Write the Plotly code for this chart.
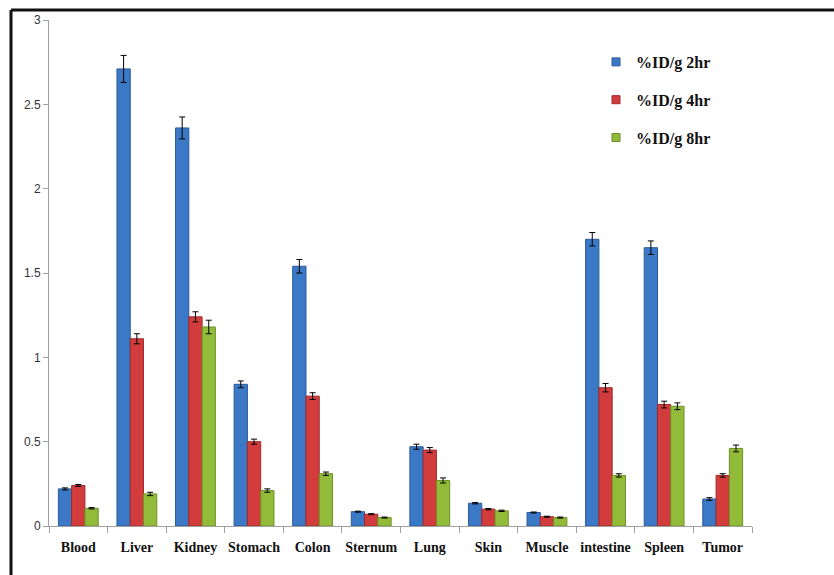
import plotly.graph_objects as go

categories = ["Blood", "Liver", "Kidney", "Stomach", "Colon", "Sternum", "Lung",
              "Skin", "Muscle", "intestine", "Spleen", "Tumor"]
series_names = ["%ID/g 2hr", "%ID/g 4hr", "%ID/g 8hr"]
vals_2hr = [0.22, 2.71, 2.36, 0.84, 1.54, 0.085, 0.47, 0.135, 0.08, 1.70, 1.65, 0.16]
vals_4hr = [0.24, 1.11, 1.24, 0.50, 0.77, 0.07, 0.45, 0.10, 0.055, 0.82, 0.72, 0.30]
vals_8hr = [0.105, 0.19, 1.18, 0.21, 0.31, 0.05, 0.27, 0.09, 0.05, 0.30, 0.71, 0.46]
err_2hr = [0.006, 0.08, 0.065, 0.02, 0.04, 0.003, 0.015, 0.004, 0.003, 0.04, 0.04, 0.008]
err_4hr = [0.006, 0.03, 0.03, 0.015, 0.02, 0.003, 0.015, 0.004, 0.003, 0.025, 0.02, 0.01]
err_8hr = [0.004, 0.01, 0.04, 0.01, 0.01, 0.003, 0.015, 0.004, 0.003, 0.01, 0.02, 0.02]
tick_vals = [0, 0.5, 1, 1.5, 2, 2.5, 3]
tick_text = ["0", "0.5", "1", "1.5", "2", "2.5", "3"]

colors = ["#3b78c6", "#d23c3c", "#93bb3a"]
edge_colors = ["#2a5a9a", "#a02a2a", "#6f9028"]

fig = go.Figure()
for i, (name, v, e) in enumerate(zip(series_names, [vals_2hr, vals_4hr, vals_8hr],
                                     [err_2hr, err_4hr, err_8hr])):
    fig.add_trace(go.Bar(
        x=categories, y=v, name=name, legendgroup=name, showlegend=False,
        marker=dict(color=colors[i], line=dict(color=edge_colors[i], width=1)),
        error_y=dict(type="data", array=e, visible=True, color="black",
                     thickness=1, width=3),
    ))
    # legend-only entry with a small square symbol
    fig.add_trace(go.Scatter(
        x=[None], y=[None], mode="markers", name=f"<b>{name}</b>", legendgroup=name,
        marker=dict(symbol="square", size=8, color=colors[i],
                    line=dict(color=edge_colors[i], width=1)),
    ))

W, H = 834, 575
ml, mr, mt, mb = 49, 82, 20, 49
pw, ph = W - ml - mr, H - mt - mb

def px_x(p):
    return (p - ml) / pw

def px_y(p):
    return (H - mb - p) / ph

border_x = px_x(11)
border_y = px_y(10)

fig.update_layout(
    width=W, height=H,
    margin=dict(l=ml, r=mr, t=mt, b=mb, pad=0),
    paper_bgcolor="white", plot_bgcolor="white",
    barmode="group", bargap=0.32, bargroupgap=0,
    showlegend=True,
    legend=dict(x=px_x(596), y=px_y(45), xanchor="left", yanchor="top",
                font=dict(family="Liberation Serif", size=16, color="#111"),
                tracegroupgap=14, bgcolor="rgba(0,0,0,0)", itemwidth=30),
    xaxis=dict(showline=True, linecolor="#a0a0a0", linewidth=1,
               ticks="outside", tickson="boundaries", ticklen=6, tickcolor="#a0a0a0",
               tickangle=0, automargin=False, ticklabelstandoff=8,
               tickvals=categories, ticktext=[f"<b>{c}</b>" for c in categories],
               tickfont=dict(family="Liberation Serif", size=14, color="#111"),
               showgrid=False),
    yaxis=dict(range=[0, 3], tickvals=tick_vals, ticktext=tick_text,
               showline=True, linecolor="#a0a0a0", linewidth=1,
               ticks="outside", ticklen=5, tickcolor="#a0a0a0", automargin=False,
               tickfont=dict(family="Liberation Sans", size=12, color="#333"),
               showgrid=False, zeroline=False),
    font=dict(family="Liberation Serif"),
    shapes=[
        dict(type="line", xref="paper", yref="paper", x0=border_x, x1=1.3,
             y0=border_y, y1=border_y, line=dict(color="#111", width=3)),
        dict(type="line", xref="paper", yref="paper", x0=border_x, x1=border_x,
             y0=border_y, y1=-0.3, line=dict(color="#111", width=3)),
    ],
)

fig.write_html("out.html")
